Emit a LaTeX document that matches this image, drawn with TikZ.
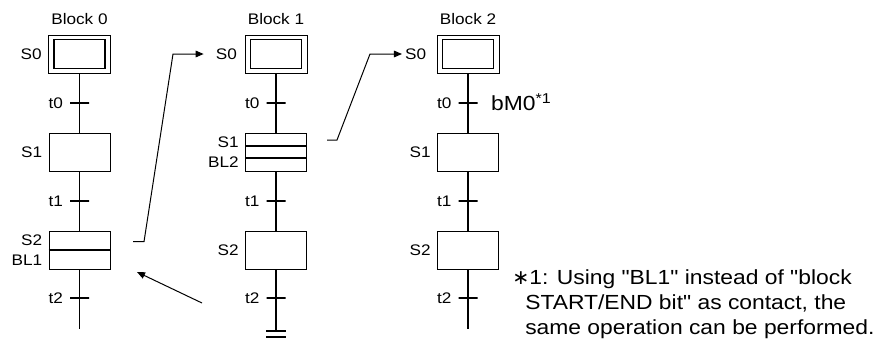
\documentclass[tikz,border=0pt]{standalone}
\usepackage{fontspec}
\setmainfont{Liberation Sans}[FakeStretch=1.12, Ligatures=TeXOff]
\newfontfamily\symfont{DejaVu Sans}
\usetikzlibrary{arrows.meta,positioning}

\begin{document}
\begin{tikzpicture}[
        x=0.75pt, y=-0.75pt,
        every node/.style={font=\fontsize{11.5}{13}\selectfont},
        stepbox/.style={rectangle, draw, line width=0.75pt, minimum width=45.75pt, minimum height=28.5pt, inner sep=0pt, fill=white},
        initouter/.style={stepbox, minimum width=46.5pt},
        initinner/.style={rectangle, draw, line width=0.9pt, minimum width=38.25pt, minimum height=21.75pt, inner sep=0pt},
        trans/.style={rectangle, draw, line width=1.2pt, minimum width=14.25pt, minimum height=0pt, inner sep=0pt},
        lbl/.style={inner sep=0pt},
        flow/.style={line width=1.25pt},
        divider/.style={line width=1.2pt},
        link/.style={line width=0.75pt, -{Triangle[length=6pt,width=5pt]}},
        note/.style={font=\fontsize{15.3}{18.75}\selectfont, inner sep=0pt, anchor=base west}
    ]
        \useasboundingbox (0,0) rectangle (877,347);

        % Block 0
        \node[lbl] (b0name) at (79.5,19.5) {Block 0};
        \node[initouter] (b0s0) at (79.5,54) {};
        \node[initinner] (b0s0i) at (b0s0) {};
        \node[trans] (b0t0) at (79.5,103) {};
        \node[stepbox] (b0s1) at (79.5,152) {};
        \node[trans] (b0t1) at (79.5,201) {};
        \node[stepbox] (b0s2) at (79.5,250) {};
        \node[trans] (b0t2) at (79.5,298) {};
        \coordinate (b0end) at (79.5,329);
        \draw[flow] (b0s0) -- (b0t0) -- (b0s1) -- (b0t1) -- (b0s2) -- (b0t2) -- (b0end);
        \draw[divider] (b0s2.west) -- (b0s2.east);
        \node[lbl, left=4.5pt of b0s0] (b0l0) {S0};
        \node[lbl, left=4.5pt of b0t0] (b0lt0) {t0};
        \node[lbl, left=4.5pt of b0s1] (b0l1) {S1};
        \node[lbl, left=4.5pt of b0t1] (b0lt1) {t1};
        \node[lbl, left=4.5pt of b0s2, yshift=7.5pt] (b0l2) {S2};
        \node[lbl, left=4.5pt of b0s2, yshift=-7.5pt] (b0lbl1) {BL1};
        \node[lbl, left=4.5pt of b0t2] (b0lt2) {t2};

        % Block 1
        \node[lbl] (b1name) at (276,19.5) {Block 1};
        \node[initouter] (b1s0) at (276,54) {};
        \node[initinner] (b1s0i) at (b1s0) {};
        \node[trans] (b1t0) at (276,103) {};
        \node[stepbox] (b1s1) at (276,152) {};
        \node[trans] (b1t1) at (276,201) {};
        \node[stepbox] (b1s2) at (276,250) {};
        \node[trans] (b1t2) at (276,298) {};
        \coordinate (b1end) at (276,331);
        \draw[flow] (b1s0) -- (b1t0) -- (b1s1) -- (b1t1) -- (b1s2) -- (b1t2) -- (b1end);
        \draw[divider] ([yshift=4.5pt]b1s1.west) -- ([yshift=4.5pt]b1s1.east);
        \draw[divider] ([yshift=-4.5pt]b1s1.west) -- ([yshift=-4.5pt]b1s1.east);
        \draw[divider] ([xshift=-7.5pt]b1end) -- ([xshift=7.5pt]b1end);
        \draw[divider] ([xshift=-7.5pt,yshift=-4.5pt]b1end) -- ([xshift=7.5pt,yshift=-4.5pt]b1end);
        \node[lbl, left=5.5pt of b1s0] (b1l0) {S0};
        \node[lbl, left=4.5pt of b1t0] (b1lt0) {t0};
        \node[lbl, left=4.5pt of b1s1, yshift=7.5pt] (b1l1) {S1};
        \node[lbl, left=4.5pt of b1s1, yshift=-7.5pt] (b1lbl2) {BL2};
        \node[lbl, left=4.5pt of b1t1] (b1lt1) {t1};
        \node[lbl, left=4.5pt of b1s2] (b1l2) {S2};
        \node[lbl, left=4.5pt of b1t2] (b1lt2) {t2};

        % Block 2
        \node[lbl] (b2name) at (468,19.5) {Block 2};
        \node[initouter] (b2s0) at (468,54) {};
        \node[initinner] (b2s0i) at (b2s0) {};
        \node[trans] (b2t0) at (468,103) {};
        \node[stepbox] (b2s1) at (468,152) {};
        \node[trans] (b2t1) at (468,201) {};
        \node[stepbox] (b2s2) at (468,250) {};
        \node[trans] (b2t2) at (468,298) {};
        \coordinate (b2end) at (468,329);
        \draw[flow] (b2s0) -- (b2t0) -- (b2s1) -- (b2t1) -- (b2s2) -- (b2t2) -- (b2end);
        \node[lbl, left=7.5pt of b2s0] (b2l0) {S0};
        \node[lbl, left=4.5pt of b2t0] (b2lt0) {t0};
        \node[lbl, right=9.4pt of b2t0, font=\fontsize{15.3}{18}\selectfont] (b2m0) {bM0\smash{\textsuperscript{*1}}};
        \node[lbl, left=4.5pt of b2s1] (b2l1) {S1};
        \node[lbl, left=4.5pt of b2t1] (b2lt1) {t1};
        \node[lbl, left=4.5pt of b2s2] (b2l2) {S2};
        \node[lbl, left=4.5pt of b2t2] (b2lt2) {t2};

        % jumps between blocks
        \coordinate (a1s) at (133,241.7);
        \coordinate (a1b) at (144,241.7);
        \coordinate (a1c) at (173,54);
        \draw[link, shorten >=9pt] (a1s) -- (a1b) -- (a1c) -- (b1l0.west);
        \coordinate (a2s) at (327,140);
        \coordinate (a2b) at (337,140);
        \coordinate (a2c) at (370,54);
        \draw[link, shorten >=2.25pt] (a2s) -- (a2b) -- (a2c) -- (b2l0.west);
        \coordinate (a3s) at (202,303);
        \coordinate (a3e) at (137,272);
        \draw[link] (a3s) -- (a3e);

        % note
        \node[note] (fn1) at (512,284.5) {{\symfont ∗}1: Using "BL1" instead of "block};
        \node[note] (fn2) at (525,309.5) {START/END bit" as contact, the};
        \node[note] (fn3) at (525,334.5) {same operation can be performed.};
    \end{tikzpicture}
\end{document}
